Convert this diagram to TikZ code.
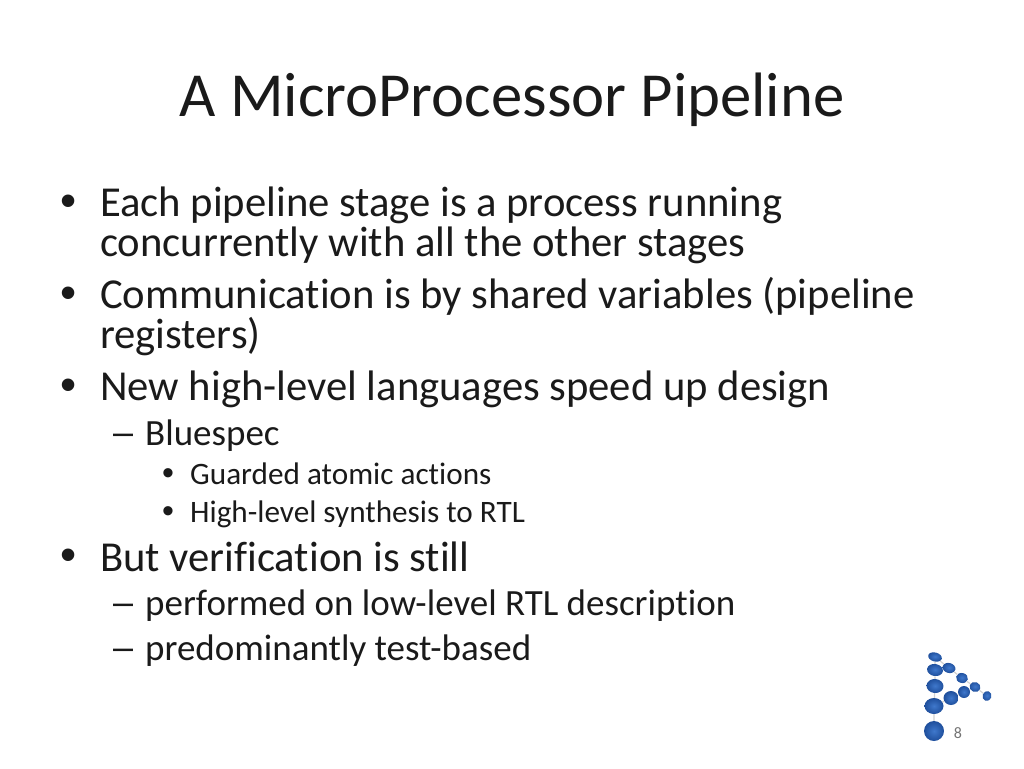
\documentclass[tikz,border=0pt]{standalone}
\usepackage{fontspec}
\setmainfont[Ligatures=NoCommon]{Carlito}
\newfontfamily\bulletfont{Liberation Sans}
\usetikzlibrary{positioning,shapes.geometric}
\definecolor{ballin}{HTML}{3F78CC}
\definecolor{ballout}{HTML}{1F4F9C}
\definecolor{textgray}{HTML}{1A1A1A}
\tikzset{every node/.style={anchor=base west,inner sep=0pt,text=textgray},
         titletext/.style={font=\fontsize{62.7}{62.7}\selectfont},
         levelone/.style={font=\fontsize{42.65}{42.65}\selectfont},
         leveltwo/.style={font=\fontsize{37}{37}\selectfont},
         levelthree/.style={font=\fontsize{31.2}{31.2}\selectfont},
         bulletone/.style={font=\bulletfont\fontsize{46}{46}\selectfont},
         bullettwo/.style={font=\bulletfont\fontsize{36}{36}\selectfont},
         bulletthree/.style={font=\bulletfont\fontsize{34}{34}\selectfont},
         ball/.style={ellipse,shading=radial,inner color=ballin,outer color=ballout,draw=none,inner sep=0pt,anchor=center},
         strut/.style={draw=black!18,line width=1.2pt}}
\begin{document}
\begin{tikzpicture}[x=1pt,y=-1pt]
\useasboundingbox (0,0) rectangle (1024,768);

\node[titletext,anchor=base] (title) at (512,116) {A MicroProcessor Pipeline};

\node[bulletone] (b1) at (60,216) {•};
\node[levelone] (t1) at (100,216) {Each pipeline stage is a process running};
\node[levelone] (t1b) at (100,256) {concurrently with all the other stages};
\node[bulletone] (b2) at (60,308) {•};
\node[levelone] (t2) at (100,308) {Communication is by shared variables (pipeline};
\node[levelone] (t2b) at (100,348) {registers)};
\node[bulletone] (b3) at (60,400) {•};
\node[levelone] (t3) at (100,400) {New high-level languages speed up design};

\node[bullettwo] (d1) at (113,444) {–};
\node[leveltwo] (s1) at (145,445) {Bluespec};
\node[bulletthree] (b4) at (162,484) {•};
\node[levelthree] (u1) at (190,484) {Guarded atomic actions};
\node[bulletthree] (b5) at (162,522) {•};
\node[levelthree] (u2) at (190,522) {High-level synthesis to RTL};

\node[bulletone] (b6) at (60,570) {•};
\node[levelone] (t4) at (100,571) {But verification is still};
\node[bullettwo] (d2) at (113,614) {–};
\node[leveltwo] (s2) at (145,615) {performed on low-level RTL description};
\node[bullettwo] (d3) at (113,659) {–};
\node[leveltwo] (s3) at (145,660) {predominantly test-based};

% logo
\foreach \nm/\px/\py/\bw/\bh/\rot in {a/935/657/14/9/15,b/935/670/16/12/10,c/949/668/13/10/15,
    d/962/678/12/10/15,e/935/686/17/14/5,f/951/698/15/14/0,g/964/692/12/12/0,
    h/975/687/11/10/20,i/987/696/9/10/20,j/934/706/19/16/0,k/934/731/20/20/0}
  \node[ball,minimum width=\bw,minimum height=\bh,rotate=-\rot] (\nm) at (\px,\py) {};
\draw[strut] (a) -- (b) -- (e) -- (j) -- (k) (a) -- (c) -- (d) -- (h) -- (i)
  (j) -- (f) -- (g) -- (h);

\node[font=\fontsize{16}{16}\selectfont,text=black!55,anchor=base] (page) at (958,738) {8};
\end{tikzpicture}
\end{document}
